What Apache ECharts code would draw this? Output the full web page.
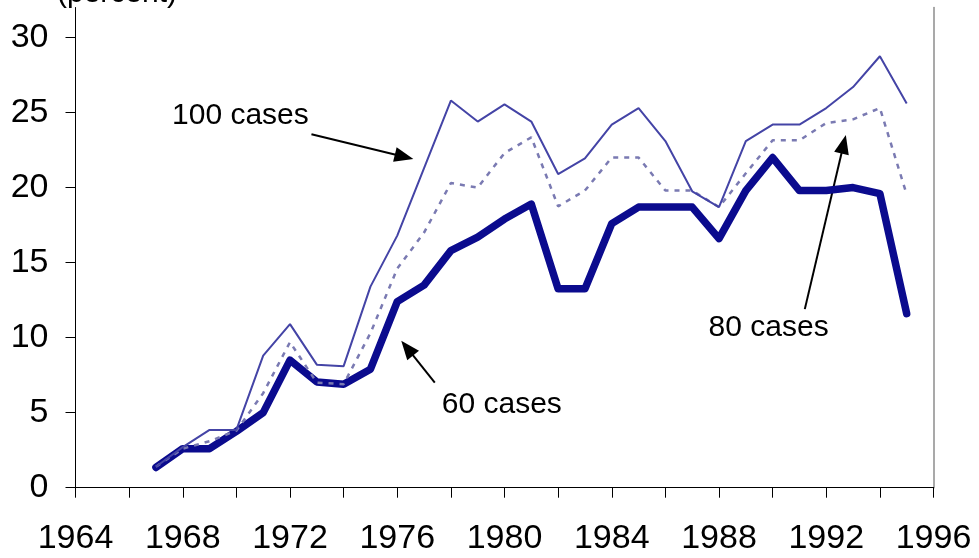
<!DOCTYPE html>
<html>
<head>
<meta charset="utf-8">
<script src="https://cdn.jsdelivr.net/npm/echarts@6.0.0/dist/echarts.min.js"></script>
<style>
  html, body { margin: 0; padding: 0; background: #fff; }
  #chart { width: 979px; height: 558px; }
</style>
</head>
<body>
<div id="chart"></div>
<script>
// data, one value per year
var years = [1967, 1968, 1969, 1970, 1971, 1972, 1973, 1974, 1975, 1976,
  1977, 1978, 1979, 1980, 1981, 1982, 1983, 1984, 1985, 1986,
  1987, 1988, 1989, 1990, 1991, 1992, 1993, 1994, 1995];
var cases100 = [1.4, 2.7, 3.85, 3.85, 8.8, 10.9, 8.2, 8.1, 13.4, 16.8,
  21.3, 25.8, 24.4, 25.55, 24.4, 20.9, 21.95, 24.2, 25.3, 23.1,
  19.75, 18.7, 23.1, 24.2, 24.2, 25.3, 26.7, 28.75, 25.6];
var cases80 = [1.4, 2.6, 3.1, 3.8, 6.3, 9.7, 7.0, 6.9, 10.3, 14.6,
  17.0, 20.3, 20.0, 22.3, 23.35, 18.75, 19.8, 22.0, 22.0, 19.8,
  19.8, 18.7, 20.95, 23.15, 23.15, 24.3, 24.55, 25.3, 19.55];
var cases60 = [1.35, 2.6, 2.6, 3.75, 5.0, 8.5, 7.05, 6.9, 7.9, 12.4,
  13.5, 15.8, 16.7, 17.9, 18.9, 13.25, 13.25, 17.6, 18.7, 18.7,
  18.7, 16.6, 19.8, 22.0, 19.8, 19.8, 20.0, 19.6, 11.6];
var yTicks = [0, 5, 10, 15, 20, 25, 30];
var xLabels = [1964, 1968, 1972, 1976, 1980, 1984, 1988, 1992, 1996];

// annotations in data units: text centre, arrow start, arrow tip
var notes = [
  { text: '100 cases', at: [1970.15, 24.8], from: [1972.8, 23.55], to: [1976.6, 21.9] },
  { text: '80 cases', at: [1989.85, 10.65], from: [1991.2, 11.9], to: [1992.73, 23.5] },
  { text: '60 cases', at: [1979.9, 5.5], from: [1977.4, 7.0], to: [1976.15, 9.8] }
];

function pairs(vals) {
  return years.map(function (y, i) { return [y, vals[i]]; });
}

var font = '"Liberation Sans", Arial, sans-serif';
var chart = echarts.init(document.getElementById('chart'));

chart.setOption({
  animation: false,
  grid: { left: 75.5, right: 45.5, top: 7.5, bottom: 70.3 },
  xAxis: [{
    type: 'value',
    min: 1964,
    max: 1996,
    interval: 2,
    axisLine: { lineStyle: { color: '#000', width: 1 } },
    axisTick: { length: 10, lineStyle: { color: '#000' } },
    axisLabel: {
      customValues: xLabels,
      margin: 34,
      color: '#000',
      fontFamily: font,
      fontSize: 34,
      formatter: function (v) { return String(v); }
    },
    splitLine: { show: false }
  }, {
    type: 'value',
    position: 'top',
    min: 1964,
    max: 1996,
    axisLine: { show: true, lineStyle: { color: '#000', width: 1 } },
    axisTick: { show: false },
    axisLabel: { show: false },
    splitLine: { show: false }
  }],
  yAxis: [{
    type: 'value',
    min: 0,
    max: 32,
    interval: 5,
    axisLine: { show: true, lineStyle: { color: '#000', width: 1 } },
    axisTick: { show: true, length: 10, customValues: yTicks, lineStyle: { color: '#000' } },
    axisLabel: {
      customValues: yTicks,
      margin: 27,
      color: '#000',
      fontFamily: font,
      fontSize: 34
    },
    splitLine: { show: false }
  }, {
    type: 'value',
    position: 'right',
    min: 0,
    max: 32,
    axisLine: { show: true, lineStyle: { color: '#8c8c8c', width: 1.5 } },
    axisTick: { show: false },
    axisLabel: { show: false },
    splitLine: { show: false }
  }],
  series: [{
    name: '60 cases',
    type: 'line',
    data: pairs(cases60),
    symbol: 'none',
    lineStyle: { color: '#0b0b8e', width: 7.5, cap: 'round', join: 'round' }
  }, {
    name: '80 cases',
    type: 'line',
    data: pairs(cases80),
    symbol: 'none',
    lineStyle: { color: '#7a7ab2', width: 2.5, type: [5, 6] }
  }, {
    name: '100 cases',
    type: 'line',
    data: pairs(cases100),
    symbol: 'none',
    lineStyle: { color: '#4444a6', width: 2 }
  }]
});

// arrows and labels placed through the grid's own scales
function px(p) { return chart.convertToPixel({ gridIndex: 0 }, p); }

var elements = [];
notes.forEach(function (n) {
  var c = px(n.at), a = px(n.from), b = px(n.to);
  var dx = b[0] - a[0], dy = b[1] - a[1];
  var len = Math.sqrt(dx * dx + dy * dy);
  var ux = dx / len, uy = dy / len;
  var head = 19, half = 7.5;
  var bx = b[0] - ux * head, by = b[1] - uy * head;
  elements.push({
    type: 'text',
    style: {
      x: c[0], y: c[1], text: n.text, fill: '#000',
      font: '30px ' + font, align: 'center', verticalAlign: 'middle'
    }
  });
  elements.push({
    type: 'line',
    shape: { x1: a[0], y1: a[1], x2: bx + ux * 2, y2: by + uy * 2 },
    style: { stroke: '#000', lineWidth: 2 }
  });
  elements.push({
    type: 'polygon',
    shape: { points: [[b[0], b[1]], [bx - uy * half, by + ux * half], [bx + uy * half, by - ux * half]] },
    style: { fill: '#000' }
  });
});
elements.push({
  type: 'text',
  style: {
    x: 57, y: -6, text: '(percent)', fill: '#000',
    font: '30px ' + font, align: 'left', verticalAlign: 'middle'
  }
});
chart.setOption({ graphic: { elements: elements } });
</script>
</body>
</html>
